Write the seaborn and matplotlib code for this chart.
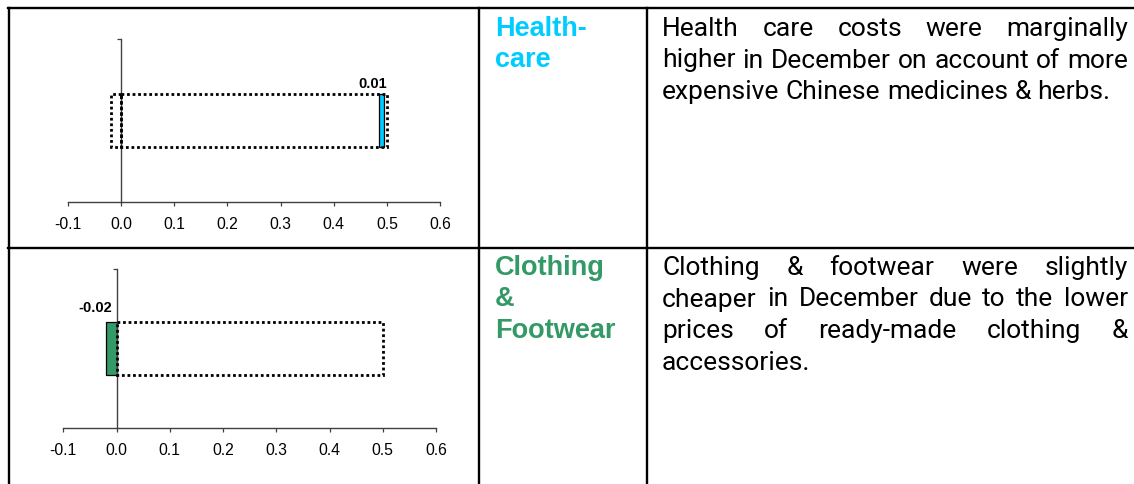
import numpy as np
import pandas as pd
import matplotlib
matplotlib.use("Agg")
import matplotlib.pyplot as plt
from matplotlib.lines import Line2D
import seaborn as sns

# ---------------- data ----------------
categories = ["Health-care", "Clothing & Footwear"]
header_lines = [["Health-", "care"], ["Clothing", "&", "Footwear"]]
header_colors = ["#00CCFF", "#339966"]
change_values = [0.01, -0.02]
change_labels = ["0.01", "-0.02"]
bar_starts = [0.485, 0.0]
ref_upper = [0.5, 0.5]
ref_lower = [-0.02, 0.0]
xtick_values = [-0.1, 0.0, 0.1, 0.2, 0.3, 0.4, 0.5, 0.6]
xtick_labels = ["-0.1", "0.0", "0.1", "0.2", "0.3", "0.4", "0.5", "0.6"]
body_lines = [
    ["Health care costs were marginally",
     "higher in December on account of more",
     "expensive Chinese medicines & herbs."],
    ["Clothing & footwear were slightly",
     "cheaper in December due to the lower",
     "prices of ready-made clothing &",
     "accessories."],
]

# ---------------- layout ----------------
W, H = 1134, 484
sns.set_theme(style="white")
plt.rcParams["font.family"] = ["Liberation Sans", "DejaVu Sans"]

fig = plt.figure(figsize=(W / 100, H / 100), dpi=100)
fig.patch.set_facecolor("white")


def rect(l, t, r, b):
    return [l / W, 1 - b / H, (r - l) / W, (b - t) / H]


axes_px = [(68, 39, 440, 201.7), (63.3, 269, 436, 427.7)]
label_dy = [1.5, 5]
bar_h = 0.33
dotted = (0, (1.0, 1.0))

for i in range(2):
    ax = fig.add_axes(rect(*axes_px[i]))
    ax.patch.set_alpha(0)
    cat = [categories[i]]
    # coloured change bar
    if bar_starts[i] == 0:
        sns.barplot(x=[change_values[i]], y=cat, orient="h", width=bar_h,
                    color=header_colors[i], saturation=1, errorbar=None,
                    edgecolor="black", linewidth=0.9, ax=ax)
    else:
        ax.barh(y=0, width=change_values[i], left=bar_starts[i], height=bar_h,
                color=header_colors[i], edgecolor="black", linewidth=0.9)
    # dotted reference boxes
    for val in (ref_upper[i], ref_lower[i]):
        if val == 0:
            continue
        n0 = len(ax.patches)
        sns.barplot(x=[val], y=cat, orient="h", width=bar_h, color="white",
                    saturation=1, errorbar=None, edgecolor="black",
                    linewidth=2.0, linestyle=dotted, ax=ax)
        for p in ax.patches[n0:]:
            p.set_facecolor("none")
            p.set_zorder(3)
    # value label
    end = bar_starts[i] + change_values[i]
    ax.annotate(change_labels[i], xy=(end, -bar_h / 2), xytext=(-8, label_dy[i]),
                textcoords="offset points", ha="center", va="bottom",
                fontsize=10.5, fontweight="bold", color="black")
    ax.set_xlim(-0.1, 0.6)
    ax.set_ylim(0.5, -0.5)
    ax.set_xticks(xtick_values)
    ax.set_xticklabels(xtick_labels)
    ax.set_yticks([-0.5])
    ax.set_yticklabels([""])
    ax.set_xlabel("")
    ax.set_ylabel("")
    for s in ("top", "right"):
        ax.spines[s].set_visible(False)
    ax.spines["left"].set_position(("data", 0))
    for s in ("left", "bottom"):
        ax.spines[s].set_color("#404040")
        ax.spines[s].set_linewidth(1.0)
    ax.tick_params(axis="x", direction="out", length=3, width=0.9,
                   color="#404040", labelsize=11.3, labelcolor="black", pad=8,
                   bottom=True)
    ax.tick_params(axis="y", direction="out", length=3, width=0.9,
                   color="#404040", left=True)

# ---------------- table grid ----------------
lw = 1.7
grid = [((8, 7.5), (W, 7.5)), ((8, 247.7), (W, 247.7)),
        ((8.5, 7.5), (8.5, H)), ((478.5, 7.5), (478.5, H)),
        ((646.7, 7.5), (646.7, H))]
for (x0, y0), (x1, y1) in grid:
    fig.add_artist(Line2D([x0 / W, x1 / W], [1 - y0 / H, 1 - y1 / H],
                          transform=fig.transFigure, color="black", lw=lw,
                          solid_capstyle="projecting"))

renderer = fig.canvas.get_renderer()


def text_width(s, **kw):
    t = fig.text(0, 0, s, **kw)
    w = t.get_window_extent(renderer).width
    t.remove()
    return w


# headers
hdr_kw = dict(family=["Liberation Sans", "DejaVu Sans"], fontweight="bold")
hdr_size = 20 * 97 / text_width("Health-", fontsize=20, **hdr_kw)
hdr_size = min(hdr_size, 19.5)
header_base = [[36, 67], [275, 306.5, 338]]
for i in range(2):
    for line, yb in zip(header_lines[i], header_base[i]):
        fig.text(495 / W, 1 - yb / H, line, fontsize=hdr_size, color=header_colors[i],
                 va="baseline", ha="left", **hdr_kw)

# body text (justified)
body_kw = dict(family=["Roboto", "DejaVu Sans"], color="black")
body_size = 20 * 445 / text_width("expensive Chinese medicines & herbs.", fontsize=20, **body_kw)
space_w = (text_width("a a", fontsize=body_size, **body_kw)
           - text_width("aa", fontsize=body_size, **body_kw))
X0, X1 = 662, 1128
body_base = [[36, 67.5, 99], [275, 306.5, 338, 369.5]]
for i in range(2):
    lines = body_lines[i]
    for j, (line, yb) in enumerate(zip(lines, body_base[i])):
        words = line.split(" ")
        justify = j < len(lines) - 1
        widths = [text_width(wd, fontsize=body_size, **body_kw) for wd in words]
        gap = (X1 - X0 - sum(widths)) / (len(words) - 1) if (justify and len(words) > 1) else space_w
        x = X0
        for wd, w in zip(words, widths):
            fig.text(x / W, 1 - yb / H, wd, fontsize=body_size, va="baseline",
                     ha="left", **body_kw)
            x += w + gap

fig.savefig("out.png", dpi=100, facecolor="white")
